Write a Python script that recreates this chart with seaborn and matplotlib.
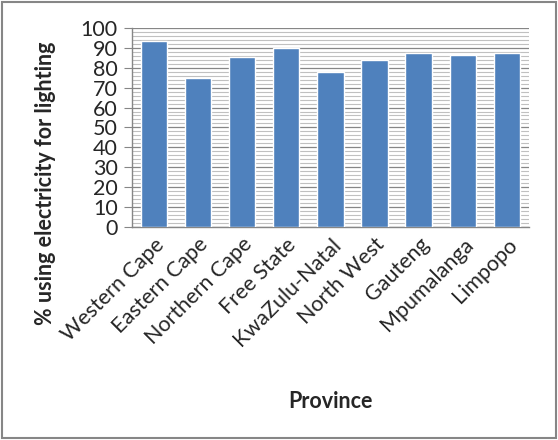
import matplotlib
matplotlib.use("Agg")
import matplotlib.pyplot as plt
from matplotlib.patches import Rectangle
from matplotlib.ticker import MultipleLocator
import seaborn as sns
import pandas as pd

provinces = ["Western Cape", "Eastern Cape", "Northern Cape", "Free State",
             "KwaZulu-Natal", "North West", "Gauteng", "Mpumalanga", "Limpopo"]
pct_electricity = [93.7, 74.9, 85.7, 89.8, 77.9, 84.0, 87.6, 86.6, 87.6]

df = pd.DataFrame({"Province": provinces, "pct": pct_electricity})

sns.set_style("white")
plt.rcParams["font.family"] = ["Lato", "DejaVu Sans"]

fig = plt.figure(figsize=(5.58, 4.40), dpi=100)
ax = fig.add_axes([0.236, 0.485, 0.712, 0.451])

sns.barplot(data=df, x="Province", y="pct", color="#4F81BD", width=0.6,
            saturation=1, ax=ax, zorder=3)

ax.set_ylim(0, 100)
ax.yaxis.set_major_locator(MultipleLocator(10))
ax.yaxis.set_minor_locator(MultipleLocator(2))
ax.grid(axis="y", which="major", color="#868686", linewidth=0.9, zorder=0)
ax.grid(axis="y", which="minor", color="#c0c0c0", linewidth=0.8, zorder=0)
ax.set_axisbelow(True)

for side in ["top", "right"]:
    ax.spines[side].set_visible(False)
for side in ["left", "bottom"]:
    ax.spines[side].set_color("#868686")
    ax.spines[side].set_linewidth(1)

ax.tick_params(axis="y", which="major", left=True, length=6, color="#868686",
               labelsize=15.5, pad=4)
ax.tick_params(axis="y", which="minor", left=False)
ax.tick_params(axis="x", bottom=False, labelsize=15.5, pad=2)
plt.setp(ax.get_xticklabels(), rotation=45, ha="right", rotation_mode="anchor")

ax.set_xlabel("Province", fontsize=15.5, fontweight="bold", labelpad=30)
ax.set_ylabel("% using electricity for lighting", fontsize=15.5,
              fontweight="bold")
ax.yaxis.set_label_coords(-0.19, 0.22)

fig.patches.append(Rectangle((0.004, 0.005), 0.992, 0.99, transform=fig.transFigure,
                             fill=False, edgecolor="#868686", linewidth=1.5))

fig.savefig("out.png", dpi=100)
